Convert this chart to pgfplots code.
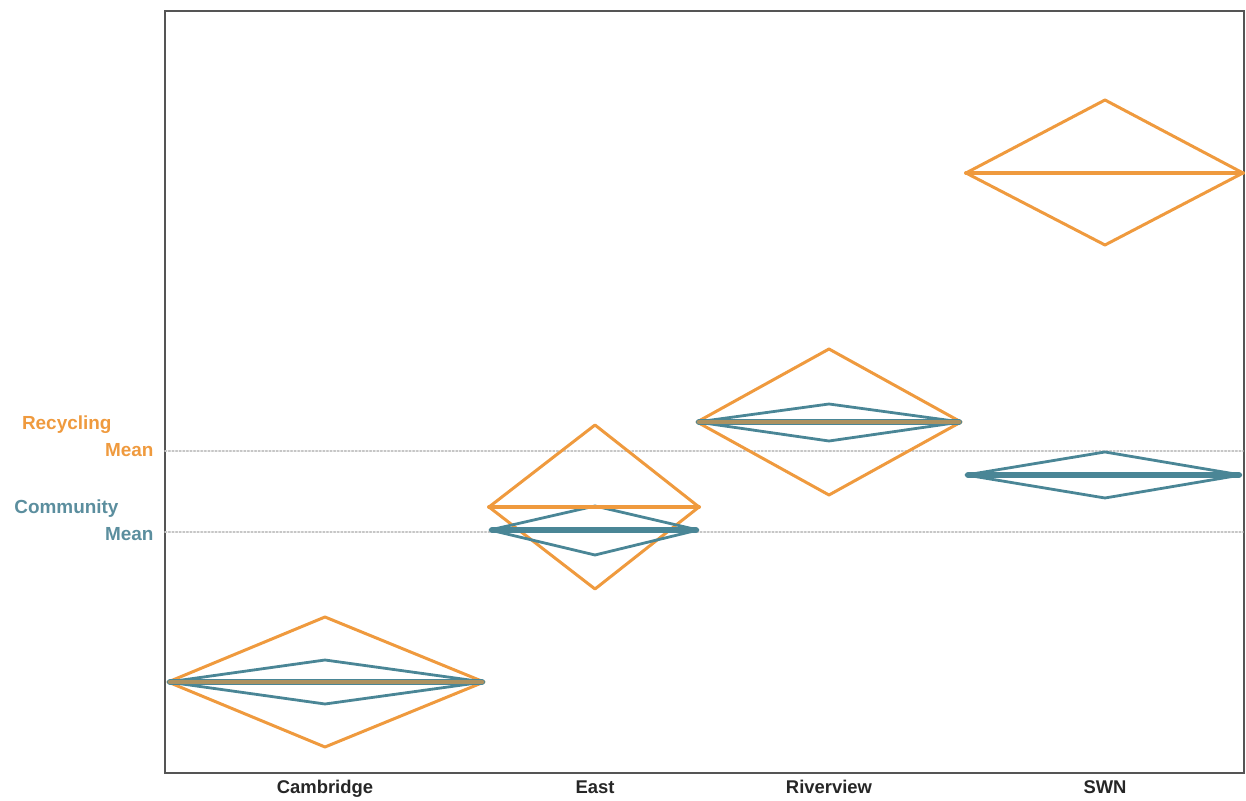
\documentclass[border=0pt]{standalone}
\usepackage{pgfplots}
\pgfplotsset{compat=1.18}
\usepackage{fontspec}
\setmainfont{Liberation Sans}
\definecolor{rorange}{HTML}{EF9A3E}
\definecolor{rteal}{HTML}{4A8696}
\definecolor{cteal}{HTML}{5B8E9E}
\definecolor{axgray}{HTML}{555555}
\begin{document}
\begin{tikzpicture}
\path[use as bounding box] (0,0) rectangle (1246bp,801bp);
\begin{axis}[
  at={(165bp,28bp)}, anchor=south west,
  scale only axis, width=1079bp, height=762bp,
  xmin=165, xmax=1244, ymin=28, ymax=790,
  axis line style={axgray, line width=2bp},
  ytick=\empty,
  xtick={325,595,829,1105},
  xticklabels={Cambridge,East,Riverview,SWN},
  xticklabel style={font=\fontsize{18.5}{20}\selectfont\bfseries, text=black!85, yshift=-4bp},
  major tick length=0pt,
  clip=false,
  every axis plot/.append style={line join=round, line cap=round},
]
% reference means (dotted)
\addplot[gray!45, dotted, line width=1.6bp] coordinates {(165,350) (1243,350)};
\addplot[gray!45, dotted, line width=1.6bp] coordinates {(165,269) (1243,269)};
% Recycling diamonds (orange)
\addplot[rorange, line width=3bp] coordinates {(168,119) (325,184) (484,119) (325,54) (168,119)};
\addplot[rorange, line width=3bp] coordinates {(489,294) (595,376) (699,294) (595,212) (489,294)};
\addplot[rorange, line width=3bp] coordinates {(697,379) (829,452) (961,379) (829,306) (697,379)};
\addplot[rorange, line width=3bp] coordinates {(966,628) (1105,701) (1243,628) (1105,556) (966,628)};
% Community diamonds (teal)
\addplot[rteal, line width=2.8bp] coordinates {(168,119) (325,141) (484,119) (325,97) (168,119)};
\addplot[rteal, line width=2.8bp] coordinates {(490,271) (595,295) (698,271) (595,246) (490,271)};
\addplot[rteal, line width=2.8bp] coordinates {(697,379) (829,397) (961,379) (829,360) (697,379)};
\addplot[rteal, line width=2.8bp] coordinates {(966,326) (1105,349) (1241,326) (1105,303) (966,326)};
% Community means (thick teal)
\addplot[rteal, line width=6bp] coordinates {(170,119) (482,119)};
\addplot[rteal, line width=6bp] coordinates {(492,271) (696,271)};
\addplot[rteal, line width=6bp] coordinates {(699,379) (959,379)};
\addplot[rteal, line width=6bp] coordinates {(968,326) (1239,326)};
% Recycling means (orange)
\addplot[rorange, line width=4.5bp, opacity=0.6] coordinates {(170,119) (482,119)};
\addplot[rorange, line width=4bp] coordinates {(489,294) (699,294)};
\addplot[rorange, line width=4.5bp, opacity=0.6] coordinates {(699,379) (959,379)};
\addplot[rorange, line width=4bp] coordinates {(966,628) (1243,628)};
% labels
\node[anchor=base east, text=rorange, font=\fontsize{19}{22}\selectfont\bfseries] at (axis cs:115,371) {Recycling};
\node[anchor=base east, text=rorange, font=\fontsize{19}{22}\selectfont\bfseries] at (axis cs:157,344) {Mean};
\node[anchor=base east, text=cteal, font=\fontsize{19}{22}\selectfont\bfseries] at (axis cs:122,287) {Community};
\node[anchor=base east, text=cteal, font=\fontsize{19}{22}\selectfont\bfseries] at (axis cs:157,260) {Mean};
\end{axis}
\end{tikzpicture}
\end{document}
